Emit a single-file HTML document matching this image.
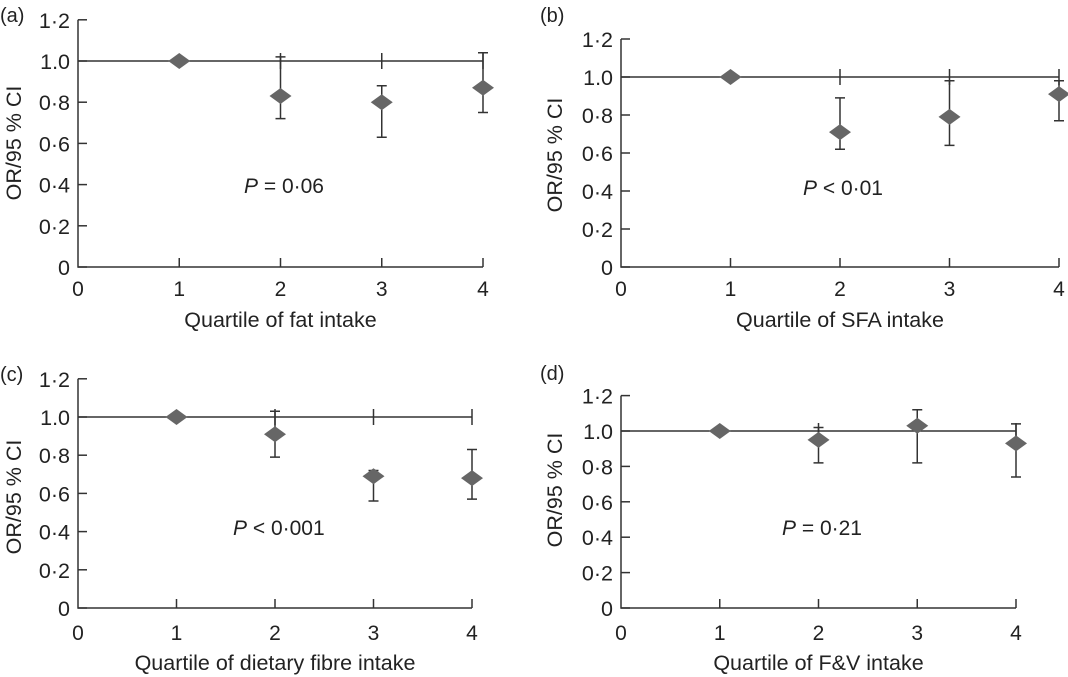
<!DOCTYPE html>
<html><head><meta charset="utf-8"><style>
body{margin:0;background:#fff;}
svg{display:block;font-family:"Liberation Sans",sans-serif;}
text{fill:#222;}
</style></head><body>
<svg id="chart" width="1068" height="677" viewBox="0 0 1068 677" xmlns="http://www.w3.org/2000/svg"></svg>
<script>
const quartiles=[1,2,3,4];
const xTickLabels=["0","1","2","3","4"];
const yTickValues=[0,0.2,0.4,0.6,0.8,1.0,1.2];
const yTickLabels=["0","0·2","0·4","0·6","0·8","1.0","1·2"];
const orA=[1.0,0.83,0.80,0.87], loA=[1.0,0.72,0.63,0.75], hiA=[1.0,1.02,0.88,1.04];
const orB=[1.0,0.71,0.79,0.91], loB=[1.0,0.62,0.64,0.77], hiB=[1.0,0.89,0.98,0.98];
const orC=[1.0,0.91,0.69,0.68], loC=[1.0,0.79,0.56,0.57], hiC=[1.0,1.03,0.72,0.83];
const orD=[1.0,0.95,1.03,0.93], loD=[1.0,0.82,0.82,0.74], hiD=[1.0,1.02,1.12,1.04];
const panels=[
 {id:'a',tag:'(a)',x0:78,x4:483,y0:267,y1:61,tagX:0,tagY:22,title:'Quartile of fat intake',tickY:296,titleY:327,ytX:20,ytY:143,p:'= 0·06',pX:244,pY:193,or:orA,lo:loA,hi:hiA},
 {id:'b',tag:'(b)',x0:621,x4:1059,y0:267,y1:77,tagX:540,tagY:22,title:'Quartile of SFA intake',tickY:296,titleY:327,ytX:561,ytY:155,p:'< 0·01',pX:803,pY:195,or:orB,lo:loB,hi:hiB},
 {id:'c',tag:'(c)',x0:78,x4:472,y0:608,y1:417,tagX:0,tagY:381,title:'Quartile of dietary fibre intake',tickY:640,titleY:670,ytX:20,ytY:497,p:'< 0·001',pX:233,pY:535,or:orC,lo:loC,hi:hiC},
 {id:'d',tag:'(d)',x0:621,x4:1016,y0:608,y1:431,tagX:540,tagY:380,title:'Quartile of F&V intake',tickY:640,titleY:670,ytX:561,ytY:490,p:'= 0·21',pX:782,pY:535,or:orD,lo:loD,hi:hiD}
];
const svg=document.getElementById('chart');
const NS='http://www.w3.org/2000/svg';
function mk(tag,attrs,parent){const e=document.createElementNS(NS,tag);for(const k in attrs)e.setAttribute(k,attrs[k]);parent.appendChild(e);return e;}
const LC='#333';
panels.forEach(P=>{
 const g=mk('g',{},svg);
 
 
 const xs=v=>P.x0+(P.x4-P.x0)*v/4;
 const ys=v=>P.y0-(P.y0-P.y1)*v;
 const topY=ys(1.2);
 const t=mk('text',{x:P.tagX,y:P.tagY,'font-size':20},g);t.textContent=P.tag;
 
 
 const ax=mk('path',{d:`M${P.x0},${topY}V${P.y0}H${P.x4}`,stroke:LC,'stroke-width':1.5,fill:'none'},g);
 
 
 yTickValues.forEach((v,i)=>{
  const y=ys(v);
  mk('line',{x1:P.x0,x2:P.x0+9,y1:y,y2:y,stroke:LC,'stroke-width':1.5},g);
  const l=mk('text',{x:P.x0-8,y:y+8,'font-size':21.5,'text-anchor':'end'},g);l.textContent=yTickLabels[i];
  
  
 });
 xTickLabels.forEach((s,i)=>{
  const x=xs(i);
  if(i>0)mk('line',{x1:x,x2:x,y1:P.y0,y2:P.y0-9,stroke:LC,'stroke-width':1.5},g);
  const l=mk('text',{x:x,y:P.tickY,'font-size':21,'text-anchor':'middle'},g);l.textContent=s;
  
  
 });
 const ref=mk('line',{x1:P.x0,x2:P.x4,y1:ys(1),y2:ys(1),stroke:LC,'stroke-width':1.5},g);
 
 
 [2,3,4].forEach(q=>{const x=xs(q);mk('line',{x1:x,x2:x,y1:ys(1)-8,y2:ys(1)+8,stroke:LC,'stroke-width':1.5},g);});
 quartiles.forEach((q,i)=>{
  const x=xs(q);
  if(q>1){
   const eb=mk('path',{d:`M${x-5},${ys(P.hi[i])}H${x+5}M${x},${ys(P.hi[i])}V${ys(P.lo[i])}M${x-5},${ys(P.lo[i])}H${x+5}`,stroke:LC,'stroke-width':1.5,fill:'none'},g);
   
   
  }
  const y=ys(P.or[i]);
  const d=mk('path',{d:`M${x},${y-8}L${x+11},${y}L${x},${y+8}L${x-11},${y}Z`,fill:'#666'},g);
  
  
 });
 const tt=mk('text',{x:(P.x0+P.x4)/2,y:P.titleY,'font-size':21.5,'text-anchor':'middle'},g);tt.textContent=P.title;
 
 
 const yt=mk('text',{x:0,y:0,'font-size':21.5,'text-anchor':'middle',transform:`translate(${P.ytX+1},${P.ytY}) rotate(-90)`},g);yt.textContent='OR/95 % CI';
 
 
 const pt=mk('text',{x:P.pX,y:P.pY,'font-size':21},g);
 
 
 const it=mk('tspan',{'font-style':'italic'},pt);it.textContent='P';
 const rt=mk('tspan',{},pt);rt.textContent=' '+P.p;
});
</script>
</body></html>
